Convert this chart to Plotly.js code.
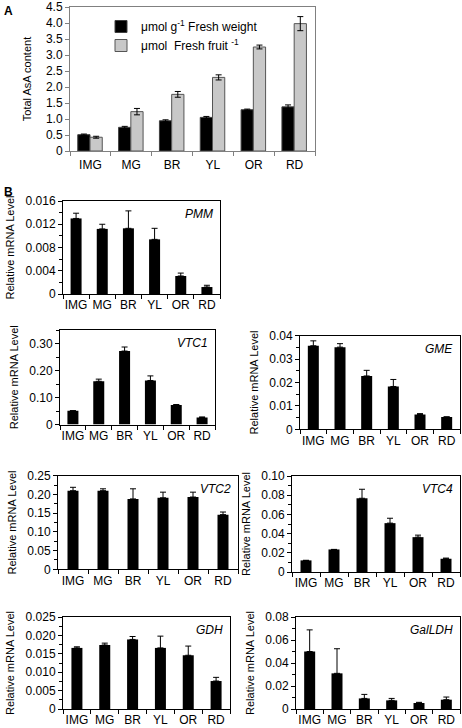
<!DOCTYPE html>
<html><head><meta charset="utf-8">
<script src="https://cdn.plot.ly/plotly-3.0.1.min.js"></script>
<style>html,body{margin:0;padding:0;background:#fff}#chart{width:462px;height:728px}</style>
</head><body><div id="chart"></div>
<script>
const stages = ["IMG","MG","BR","YL","OR","RD"];

const asaFW = [0.51,0.74,0.945,1.05,1.29,1.38];
const asaFWErr = [0.02,0.03,0.03,0.03,0.02,0.06];
const asaFruit = [0.43,1.23,1.77,2.30,3.25,3.98];
const asaFruitErr = [0.03,0.10,0.09,0.08,0.06,0.22];
const asaTicks = ["0","0.5","1.0","1.5","2.0","2.5","3.0","3.5","4.0","4.5"];
const asaTickVals = [0,0.5,1,1.5,2,2.5,3,3.5,4,4.5];

const pmm = [0.0130,0.0112,0.0113,0.0094,0.0031,0.0012];
const pmmErr = [0.0009,0.0008,0.0030,0.0019,0.0005,0.0003];
const pmmTicks = ["0","0.004","0.008","0.012","0.016"];
const pmmTickVals = [0,0.004,0.008,0.012,0.016];

const vtc1 = [0.051,0.160,0.272,0.163,0.072,0.026];
const vtc1Err = [0,0.008,0.015,0.017,0.002,0.002];
const vtc1Ticks = ["0","0.10","0.20","0.30"];
const vtc1TickVals = [0,0.1,0.2,0.3];

const gme = [0.0357,0.0351,0.0228,0.0183,0.0063,0.0053];
const gmeErr = [0.0021,0.0015,0.0024,0.0030,0.0004,0];
const gmeTicks = ["0","0.01","0.02","0.03","0.04"];
const gmeTickVals = [0,0.01,0.02,0.03,0.04];

const vtc2 = [0.210,0.210,0.188,0.191,0.193,0.146];
const vtc2Err = [0.009,0.005,0.027,0.015,0.013,0.007];
const vtc2Ticks = ["0","0.05","0.10","0.15","0.20","0.25"];
const vtc2TickVals = [0,0.05,0.1,0.15,0.2,0.25];

const vtc4 = [0.0121,0.0235,0.0768,0.0509,0.0363,0.0138];
const vtc4Err = [0,0,0.0094,0.0051,0.0021,0.0007];
const vtc4Ticks = ["0","0.02","0.04","0.06","0.08","0.10"];
const vtc4TickVals = [0,0.02,0.04,0.06,0.08,0.10];

const gdh = [0.0166,0.0174,0.0189,0.0166,0.0146,0.0076];
const gdhErr = [0.0003,0.0005,0.0008,0.0032,0.0025,0.0010];
const gdhTicks = ["0","0.005","0.010","0.015","0.020","0.025"];
const gdhTickVals = [0,0.005,0.01,0.015,0.02,0.025];

const galldh = [0.050,0.031,0.0092,0.0075,0.0052,0.0081];
const galldhErr = [0.0188,0.0214,0.0035,0.0017,0.0006,0.0023];
const galldhTicks = ["0","0.02","0.04","0.06","0.08"];
const galldhTickVals = [0,0.02,0.04,0.06,0.08];

const W = 462, H = 728;
const FONT = "'Liberation Sans', Arial, sans-serif";
const px = (a,b) => [a/W, b/W];
const py = (top,bottom) => [1-bottom/H, 1-top/H];

const panels = [
  {gene:"PMM", y:pmm, e:pmmErr, tv:pmmTickVals, tt:pmmTicks, max:0.016, minor:0.002, box:[63,220,201,294]},
  {gene:"VTC1", y:vtc1, e:vtc1Err, tv:vtc1TickVals, tt:vtc1Ticks, max:0.35, minor:0.05, box:[60,215,330,424.5]},
  {gene:"GME", y:gme, e:gmeErr, tv:gmeTickVals, tt:gmeTicks, max:0.04, minor:0.005, box:[300,460,335.7,429.3]},
  {gene:"VTC2", y:vtc2, e:vtc2Err, tv:vtc2TickVals, tt:vtc2Ticks, max:0.25, minor:0.025, box:[58,238,475.7,569.3]},
  {gene:"VTC4", y:vtc4, e:vtc4Err, tv:vtc4TickVals, tt:vtc4Ticks, max:0.10, minor:0.01, box:[292,460,476,572]},
  {gene:"GDH", y:gdh, e:gdhErr, tv:gdhTickVals, tt:gdhTicks, max:0.025, minor:0.0025, box:[63,230,617,709]},
  {gene:"GalLDH", y:galldh, e:galldhErr, tv:galldhTickVals, tt:galldhTicks, max:0.08, minor:0.01, box:[296,460,617,709]}
];

const data = [];
const layout = {
  width: W, height: H,
  margin: {l:0,r:0,t:0,b:0},
  paper_bgcolor: "#fff", plot_bgcolor: "#fff",
  font: {family: FONT, size: 12, color: "#000"},
  showlegend: true,
  legend: {x: 101/W, y: 1-12/H, xanchor:"left", yanchor:"top", bgcolor:"rgba(0,0,0,0)",
           font:{size:12, family:FONT}, tracegroupgap: 2, itemwidth: 30},
  annotations: [],
  bargap: 0.5
};

// Panel A
const aBox = [70,315,7,151];
data.push({type:"bar", x:stages, y:asaFW, name:"μmol g<sup>-1</sup> Fresh weight",
  xaxis:"x", yaxis:"y", offset:-0.31, width:0.3,
  marker:{color:"#000", line:{color:"#404040", width:1}},
  error_y:{type:"data", array:asaFWErr, visible:true, color:"#000", thickness:1, width:3}});
data.push({type:"bar", x:stages, y:asaFruit, name:"μmol  Fresh fruit <sup>-1</sup>",
  xaxis:"x", yaxis:"y", offset:-0.01, width:0.3,
  marker:{color:"#c8c8c8", line:{color:"#555", width:1}},
  error_y:{type:"data", array:asaFruitErr, visible:true, color:"#000", thickness:1, width:3}});
layout.xaxis = {domain:px(aBox[0],aBox[1]), anchor:"y", type:"category", range:[-0.5,5.5],
  showline:true, mirror:true, linecolor:"#808080", linewidth:1, ticks:"outside", ticklen:4,
  tickcolor:"#808080", tickson:"boundaries", tickangle:0, ticklabeloverflow:"allow", ticklabelstandoff:3,
  tickfont:{size:12}, showgrid:false, zeroline:false};
layout.yaxis = {domain:py(aBox[2],aBox[3]), anchor:"x", range:[0,4.5], tickvals:asaTickVals, ticktext:asaTicks,
  showline:true, mirror:true, linecolor:"#808080", linewidth:1, ticks:"outside", ticklen:4, tickcolor:"#808080",
  showgrid:false, zeroline:false, tickfont:{size:12}, ticklabeloverflow:"allow",
  title:{text:"Total AsA content", font:{size:11}, standoff:12}};

panels.forEach((p,i) => {
  const n = i+2;
  const xa = "x"+n, ya = "y"+n;
  const [l,r,t,b] = p.box;
  const catW = (r-l)/6;
  data.push({type:"bar", x:stages, y:p.y, xaxis:xa, yaxis:ya, showlegend:false, name:p.gene,
    width: 11/catW, marker:{color:"#000", line:{width:0}},
    error_y:{type:"data", symmetric:false, array:p.e, arrayminus:p.y.map(()=>0), visible:true,
      color:"#000", thickness:1, width:3}});
  layout["xaxis"+n] = {domain:px(l,r), anchor:ya, type:"category", range:[-0.5,5.5],
    showline:true, mirror:true, linecolor:"#000", linewidth:1, ticks:"outside", ticklen:4, tickcolor:"#000",
    tickson:"boundaries", tickangle:0, ticklabeloverflow:"allow", tickfont:{size:12},
    showgrid:false, zeroline:false};
  layout["yaxis"+n] = {domain:py(t,b), anchor:xa, range:[0,p.max], tickvals:p.tv, ticktext:p.tt,
    showline:true, mirror:true, linecolor:"#000", linewidth:1, ticks:"outside", ticklen:4, tickcolor:"#000",
    minor:{ticks:"outside", ticklen:3, dtick:p.minor, tick0:0, tickcolor:"#000"},
    showgrid:false, zeroline:false, tickfont:{size:12}, ticklabeloverflow:"allow",
    title:{text:"Relative mRNA Level", font:{size:11}, standoff:8}};
  layout.annotations.push({xref:"paper", yref:"paper", x:(r-5)/W, y:1-(t+4)/H, xanchor:"right", yanchor:"top",
    text:"<i>"+p.gene+"</i>", showarrow:false, font:{size:12, family:FONT}});
});

layout.annotations.push({xref:"paper", yref:"paper", x:2/W, y:1-2/H, xanchor:"left", yanchor:"top",
  text:"<b>A</b>", showarrow:false, font:{size:12, family:FONT}});
layout.annotations.push({xref:"paper", yref:"paper", x:2/W, y:1-183/H, xanchor:"left", yanchor:"top",
  text:"<b>B</b>", showarrow:false, font:{size:12, family:FONT}});

Plotly.newPlot("chart", data, layout, {staticPlot:true, displayModeBar:false});
</script></body></html>
